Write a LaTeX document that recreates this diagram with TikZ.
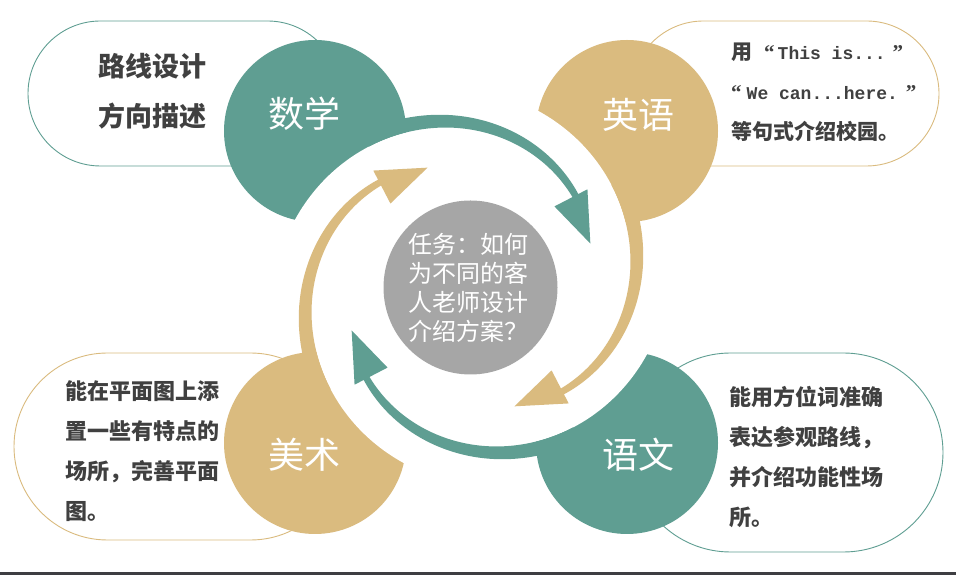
\documentclass[tikz,border=0pt]{standalone}
\usepackage{fontspec}
\newfontfamily\cjk{Noto Sans CJK SC}
\newfontfamily\monof{Liberation Mono}
\newfontfamily\serifq{Liberation Serif}
\definecolor{tealc}{RGB}{95,158,146}
\definecolor{goldc}{RGB}{218,187,127}
\definecolor{grayc}{RGB}{166,166,166}
\definecolor{txtc}{RGB}{64,64,64}
\definecolor{barc}{RGB}{62,62,66}
\tikzset{
  pill/.style={line width=0.9pt, fill=white},
  bigdot/.style={circle, minimum size=182pt, inner sep=0pt, outer sep=0pt},
  sublabel/.style={text=white, font=\cjk\fontsize{36}{40}\selectfont, inner sep=0pt},
  pilltext/.style={text=txtc, align=left, anchor=west, inner sep=0pt},
}
\newcommand{\cyclearrow}[2]{%
  \begin{scope}[shift={(471,288)}, rotate=#1]
    \fill[#2] plot[domain=38:126,samples=60,variable=\t] (\t:{119.2+0.557*\t})
      -- plot[domain=126:38,samples=60,variable=\t] (\t:{116.9+0.45*\t}) -- cycle;
    \fill[#2] (20:127) -- (40:152) -- (44:116) -- cycle;
  \end{scope}}
\newcommand{\myopenq}{{\serifq\bfseries\fontsize{21}{40}\selectfont “}}
\newcommand{\mycloseq}{{\serifq\bfseries\fontsize{21}{40}\selectfont ”}}
\newcommand{\mylat}[1]{{\monof\bfseries\fontsize{18}{40}\selectfont #1}}
\begin{document}
\begin{tikzpicture}[x=1pt,y=1pt]
\useasboundingbox (0,0) rectangle (956,575);
\fill[barc] (0,0) rectangle (956,3);
% pills
\draw[pill, draw=tealc, rounded corners=72.5pt] (28,409) rectangle (340,554);
\draw[pill, draw=goldc, rounded corners=72.5pt] (631,409) rectangle (939,554);
\draw[pill, draw=goldc, rounded corners=93.5pt] (14,35) rectangle (344,222);
\draw[pill, draw=tealc, rounded corners=99.5pt] (631,23) rectangle (943,222);
% subject circles
\node[bigdot, fill=tealc] (shuxue) at (315,444) {};
\node[bigdot, fill=goldc] (yingyu) at (627,444) {};
\node[bigdot, fill=goldc] (meishu) at (315,132) {};
\node[bigdot, fill=tealc] (yuwen) at (627,132) {};
% white bites
\foreach \rr in {0,-90,-180,-270}{
  \fill[white, shift={(471,288)}, rotate=\rr] (0,0)
    -- plot[domain=95:170,samples=60,variable=\t] (\t:{116.9+0.45*\t}) -- cycle;
}
% arrows
\cyclearrow{0}{tealc}
\cyclearrow{-90}{goldc}
\cyclearrow{-180}{tealc}
\cyclearrow{-270}{goldc}
% centre
\node[circle, fill=grayc, minimum size=174pt, inner sep=0pt] (task) at (470.5,287.5) {};
\node[text=white, font=\cjk\fontsize{24}{29}\selectfont, align=center, inner sep=0pt] (tasktext) at (468,287) {任务：如何\\为不同的客\\人老师设计\\介绍方案？};
% circle labels
\node[sublabel] (lshuxue) at (304,461) {数学};
\node[sublabel] (lyingyu) at (638,460) {英语};
\node[sublabel] (lmeishu) at (304,120) {美术};
\node[sublabel] (lyuwen) at (638,120) {语文};
% pill texts
\node[pilltext, font=\cjk\bfseries\fontsize{27}{50}\selectfont] (tshuxue) at (98,484) {路线设计\\方向描述};
\node[pilltext, font=\cjk\bfseries\fontsize{21}{40}\selectfont] (tyingyu) at (731,483) {用\hspace{12pt}\myopenq\hspace{3pt}\mylat{This is...}\hspace{7pt}\mycloseq\\\myopenq\hspace{5pt}\mylat{We can...here.}\hspace{8pt}\mycloseq\\等句式介绍校园。};
\node[pilltext, font=\cjk\bfseries\fontsize{22}{40}\selectfont] (tmeishu) at (65,124) {能在平面图上添\\置一些有特点的\\场所，完善平面\\图。};
\node[pilltext, font=\cjk\bfseries\fontsize{22}{40}\selectfont] (tyuwen) at (729,118) {能用方位词准确\\表达参观路线，\\并介绍功能性场\\所。};
\end{tikzpicture}
\end{document}
